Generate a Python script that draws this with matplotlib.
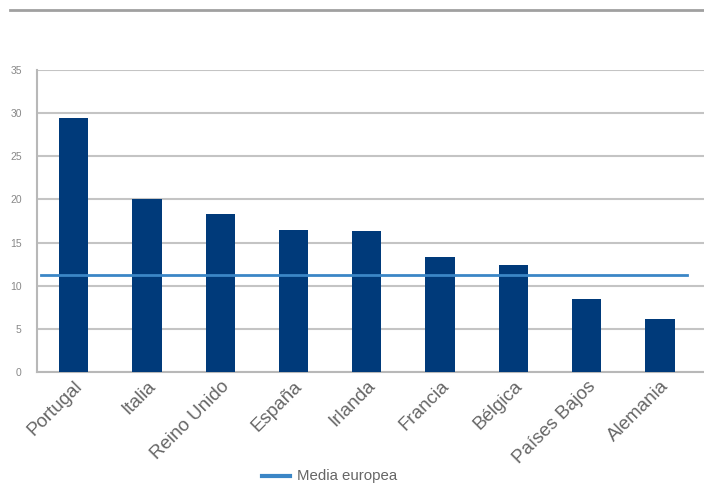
import matplotlib
matplotlib.use("Agg")
import matplotlib.pyplot as plt
from matplotlib.lines import Line2D

countries = ["Portugal", "Italia", "Reino Unido", "España", "Irlanda",
             "Francia", "Bélgica", "Países Bajos", "Alemania"]
values = [29.4, 20.0, 18.3, 16.4, 16.3, 13.3, 12.4, 8.5, 6.2]
media_europea = 11.2
yticks = [0, 5, 10, 15, 20, 25, 30, 35]
legend_label = "Media europea"

plt.rcParams["font.family"] = ["Liberation Sans", "DejaVu Sans"]

fig = plt.figure(figsize=(7.04, 4.98), dpi=100)
fig.patch.set_facecolor("white")
ax = fig.add_axes([37 / 704, 1 - 372 / 498, (704 - 37) / 704, (372 - 70) / 498])

x = list(range(len(countries)))
ax.bar(x, values, width=0.4, color="#003a7a", zorder=3)
ax.plot([-0.45, 8.37], [media_europea, media_europea], color="#3b86c6", lw=2, zorder=4)

ax.set_ylim(0, 35)
ax.set_xlim(-0.5, 8.6)
ax.set_yticks(yticks)
ax.set_yticklabels([str(t) for t in yticks], fontsize=7.5, color="#888888")
ax.yaxis.grid(True, color="#c4c4c4", lw=1.5, zorder=0)
ax.tick_params(axis="y", length=0, pad=11)
ax.tick_params(axis="x", length=0, pad=4)
ax.set_xticks(x)
ax.set_xticklabels(countries, rotation=45, ha="right", va="top",
                   rotation_mode="anchor", fontsize=13.5, color="#666666")
for s in ["top", "right"]:
    ax.spines[s].set_visible(False)
for s in ["left", "bottom"]:
    ax.spines[s].set_color("#b8b8b8")
    ax.spines[s].set_linewidth(1.5)

# top separator line
fig.add_artist(Line2D([10 / 704, 1], [1 - 10 / 498, 1 - 10 / 498],
                      color="#a0a0a0", lw=2, transform=fig.transFigure))

# legend
fig.add_artist(Line2D([262 / 704, 290 / 704], [1 - 476 / 498, 1 - 476 / 498],
                      color="#3b86c6", lw=3, transform=fig.transFigure))
fig.text(297 / 704, 1 - 476 / 498, legend_label, fontsize=10.8, color="#666666",
         va="center", ha="left")

fig.savefig("out.png", dpi=100, facecolor="white")
